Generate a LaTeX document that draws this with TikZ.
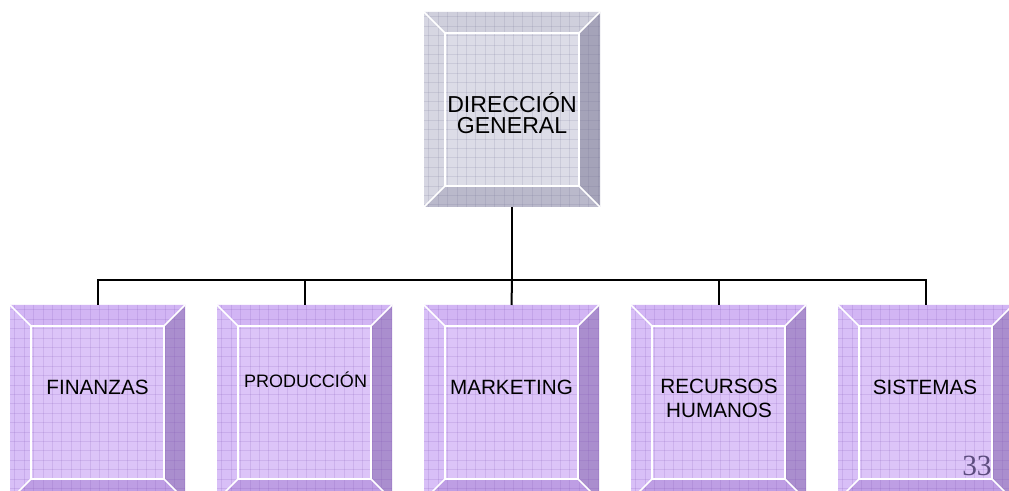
\documentclass[tikz,border=0pt]{standalone}
\usepackage{fontspec}
\setmainfont{Liberation Sans}
\newfontfamily\pagenumfont{Liberation Serif}
\usetikzlibrary{fit}

% grey palette (head office)
\definecolor{gFace}{HTML}{DCDCE7}
\definecolor{gTop}{HTML}{CFCFDC}
\definecolor{gLeft}{HTML}{D6D6E2}
\definecolor{gRight}{HTML}{A5A3B9}
\definecolor{gBottom}{HTML}{BAB9CB}
\definecolor{gGrid}{HTML}{6E6E90}
% violet palette (departments)
\definecolor{vFace}{HTML}{DCC4F8}
\definecolor{vTop}{HTML}{D2B5F4}
\definecolor{vLeft}{HTML}{D8BFF7}
\definecolor{vRight}{HTML}{AA8ECE}
\definecolor{vBottom}{HTML}{BE9EE4}
\definecolor{vGrid}{HTML}{7A4FB0}
\definecolor{pageNum}{HTML}{5C4C7E}

\tikzset{
  link/.style={draw=black, line width=1.5pt, line join=miter},
  bevelline/.style={draw=white, line width=1.1pt},
  gridline/.style={line width=0.45pt, opacity=0.16},
  frame/.style={inner sep=0pt, outer sep=0pt},
  deptlabel/.style={font=\fontsize{15.5}{18}\selectfont, align=center, inner sep=0pt},
  headlabel/.style={font=\fontsize{17.3}{16.2}\selectfont, align=center, inner sep=0pt},
}

% \bevelbox{name}{x}{y}{w}{h}{palette prefix}
\newcommand\bevelbox[6]{%
  \begin{scope}
    \clip (#2,#3) rectangle (#2+#4,#3+#5);
    \fill[#6Top]    (#2,#3) -- (#2+#4,#3) -- (#2+#4-21,#3+21) -- (#2+21,#3+21) -- cycle;
    \fill[#6Right]  (#2+#4,#3) -- (#2+#4,#3+#5) -- (#2+#4-21,#3+#5-21) -- (#2+#4-21,#3+21) -- cycle;
    \fill[#6Bottom] (#2,#3+#5) -- (#2+#4,#3+#5) -- (#2+#4-21,#3+#5-21) -- (#2+21,#3+#5-21) -- cycle;
    \fill[#6Left]   (#2,#3) -- (#2,#3+#5) -- (#2+21,#3+#5-21) -- (#2+21,#3+21) -- cycle;
    \fill[#6Face]   (#2+21,#3+21) rectangle (#2+#4-21,#3+#5-21);
    \foreach \g in {4.7,14.1,...,200} {
      \draw[gridline, #6Grid] (#2+\g,#3) -- (#2+\g,#3+#5);
      \draw[gridline, #6Grid] (#2,#3+\g) -- (#2+#4,#3+\g);
    }
    \draw[bevelline] (#2+21,#3+21) rectangle (#2+#4-21,#3+#5-21);
    \draw[bevelline] (#2,#3) -- (#2+21,#3+21);
    \draw[bevelline] (#2+#4,#3) -- (#2+#4-21,#3+21);
    \draw[bevelline] (#2+#4,#3+#5) -- (#2+#4-21,#3+#5-21);
    \draw[bevelline] (#2,#3+#5) -- (#2+21,#3+#5-21);
  \end{scope}
  \node[frame, fit={(#2,#3) (#2+#4,#3+#5)}] (#1) {};
}

\begin{document}
\begin{tikzpicture}[x=0.75pt, y=-0.75pt]
  \useasboundingbox (0,0) rectangle (1009,491);
  \clip (0,0) rectangle (1009,491);
  \fill[white] (0,0) rectangle (1009,491);

  % boxes
  \bevelbox{dg}{424}{12}{176}{195}{g}
  \bevelbox{fin}{10}{305}{175}{195}{v}
  \bevelbox{pro}{217}{305}{175}{195}{v}
  \bevelbox{mkt}{424}{305}{175}{195}{v}
  \bevelbox{rrh}{631}{305}{175}{195}{v}
  \bevelbox{sis}{838}{305}{175}{195}{v}

  % labels
  \node[headlabel] (dgtext) at (512,113) {DIRECCIÓN\\GENERAL};
  \node[deptlabel, anchor=base] (fintext) at (97.5,394) {FINANZAS};
  \node[deptlabel, anchor=base, font=\fontsize{13.5}{16}\selectfont] (protext) at (305.5,387) {PRODUCCIÓN};
  \node[deptlabel, anchor=base] (mkttext) at (511.5,394) {MARKETING};
  \node[deptlabel, anchor=center, font=\fontsize{15.5}{18}\selectfont] (rrhtext) at (719,398.5) {RECURSOS\\HUMANOS};
  \node[deptlabel, anchor=base] (sistext) at (925,394) {SISTEMAS};
  \node[anchor=base west, inner sep=0pt, font=\pagenumfont\fontsize{22}{24}\selectfont, text=pageNum] (pagenum) at (962,475) {33};

  % connectors
  \coordinate (bus) at (512,280);
  \draw[link] (dg.south) -- (bus);
  \draw[link] (fin.north) |- (bus) -| (sis.north);
  \draw[link] (pro.north) -- (pro.north |- bus);
  \draw[link] (bus) -- (mkt.north);
  \draw[link] (rrh.north) -- (rrh.north |- bus);
\end{tikzpicture}
\end{document}
